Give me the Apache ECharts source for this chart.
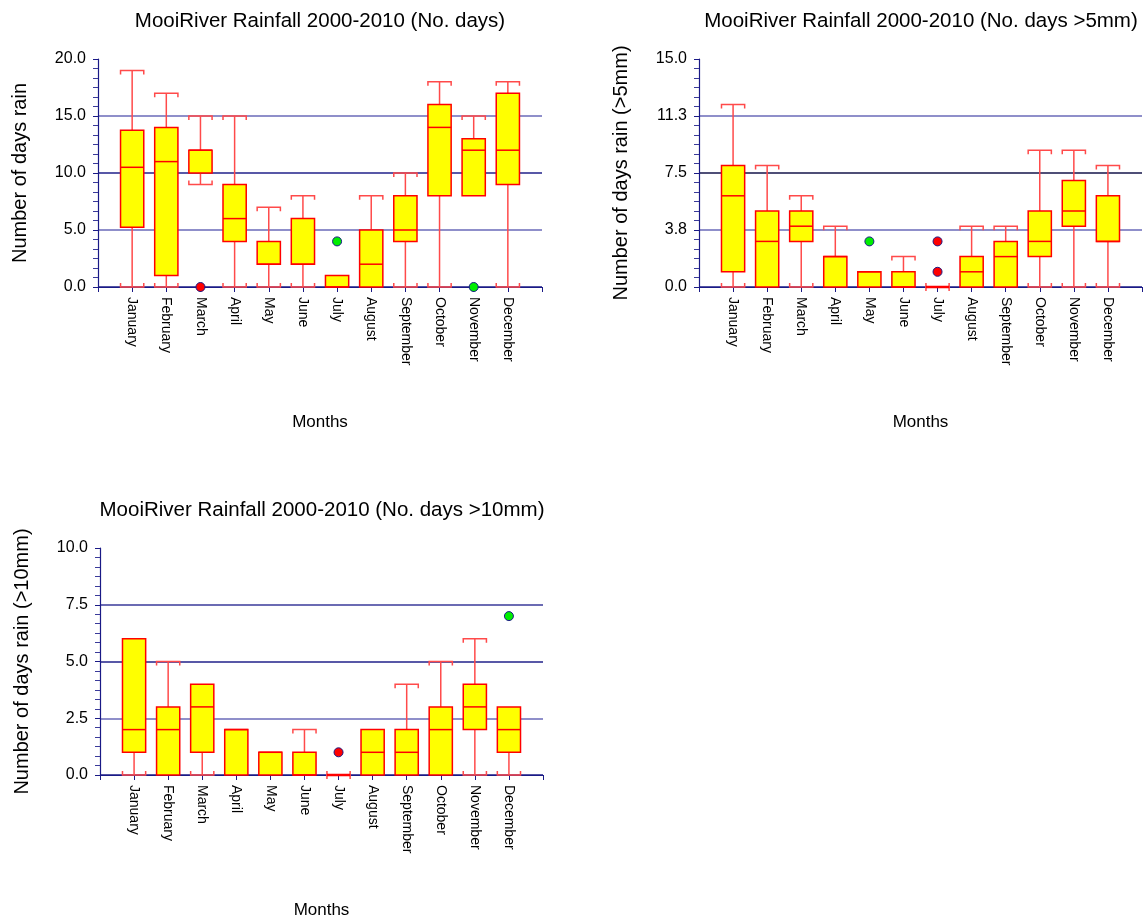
<!DOCTYPE html>
<html>
<head>
<meta charset="utf-8">
<script src="https://cdn.jsdelivr.net/npm/echarts@6/dist/echarts.min.js"></script>
<style>
html,body{margin:0;padding:0;background:#ffffff;}
#c{width:1148px;height:919px;}
</style>
</head>
<body>
<div id="c"></div>
<script>
// ---------- DATA ----------
const months = ['January','February','March','April','May','June','July','August','September','October','November','December'];

// Chart 1: No. days
const days_low  = [0, 0, 9, 0, 0, 0, 0, 0, 0, 0, 8, 0];
const days_q1   = [5.25, 1, 10, 4, 2, 2, 0, 0, 4, 8, 8, 9];
const days_med  = [10.5, 11, 12, 6, 2, 2, 0, 2, 5, 14, 12, 12];
const days_q3   = [13.75, 14, 12, 9, 4, 6, 1, 5, 8, 16, 13, 17];
const days_high = [19, 17, 15, 15, 7, 8, 1, 8, 10, 18, 15, 18];
const days_out_red   = [['March', 0]];
const days_out_green = [['July', 4], ['November', 0]];

// Chart 2: No. days > 5mm
const d5_low  = [0, 0, 0, 0, 0, 0, 0, 0, 0, 0, 0, 0];
const d5_q1   = [1, 0, 3, 0, 0, 0, 0, 0, 0, 2, 4, 3];
const d5_med  = [6, 3, 4, 2, 1, 0, 0, 1, 2, 3, 5, 3];
const d5_q3   = [8, 5, 5, 2, 1, 1, 0, 2, 3, 5, 7, 6];
const d5_high = [12, 8, 6, 4, 1, 2, 0, 4, 4, 9, 9, 8];
const d5_out_red   = [['July', 3], ['July', 1]];
const d5_out_green = [['May', 3]];

// Chart 3: No. days > 10mm
const d10_low  = [0, 0, 0, 0, 0, 0, 0, 0, 0, 0, 0, 0];
const d10_q1   = [1, 0, 1, 0, 0, 0, 0, 0, 0, 0, 2, 1];
const d10_med  = [2, 2, 3, 2, 1, 0, 0, 1, 1, 2, 3, 2];
const d10_q3   = [6, 3, 4, 2, 1, 1, 0, 2, 2, 3, 4, 3];
const d10_high = [6, 5, 4, 2, 1, 2, 0, 2, 4, 5, 6, 3];
const d10_out_red   = [['July', 1]];
const d10_out_green = [['December', 7]];

// Axis ticks
const yTicks1 = {min: 0, max: 20, interval: 5};
const yTicks2 = {min: 0, max: 15, interval: 3.75};
const yTicks3 = {min: 0, max: 10, interval: 2.5};

const titles = ['MooiRiver Rainfall 2000-2010 (No. days)',
                'MooiRiver Rainfall 2000-2010 (No. days >5mm)',
                'MooiRiver Rainfall 2000-2010 (No. days >10mm)'];
const yNames = ['Number of days rain', 'Number of days rain (>5mm)', 'Number of days rain (>10mm)'];
const xName = 'Months';

// ---------- STYLE / BUILD ----------
const FONT = 'Arial, "Liberation Sans", sans-serif';
const NAVY = '#1a1a86';
const DARK = '#20208a';
const LIGHT = '#6a6ab8';

function boxData(low, q1, med, q3, high) {
  return months.map((m, i) => [m, low[i], q1[i], med[i], q3[i], high[i]]);
}

function renderBox(params, api) {
  const x = api.value(0);
  const low = api.value(1), q1 = api.value(2), med = api.value(3), q3 = api.value(4), high = api.value(5);
  const pLow = api.coord([x, low]);
  const pQ1 = api.coord([x, q1]);
  const pMed = api.coord([x, med]);
  const pQ3 = api.coord([x, q3]);
  const pHigh = api.coord([x, high]);
  const bw = api.size([1, 0])[0] * 0.68;
  const hw = bw / 2;
  const cx = pQ1[0];
  const tick = 4;
  const wStyle = {stroke: '#ff4a4a', lineWidth: 1.5, fill: null};
  const children = [];
  const degenerate = q1 === q3;
  if (high > q3) {
    children.push({type: 'line', shape: {x1: cx, y1: pQ3[1], x2: cx, y2: pHigh[1]}, style: wStyle});
  }
  if (high > q3 || degenerate) {
    const y = pHigh[1];
    children.push({type: 'polyline', shape: {points: [[cx - hw, y + tick], [cx - hw, y], [cx + hw, y], [cx + hw, y + tick]]}, style: wStyle});
  }
  if (low < q1) {
    children.push({type: 'line', shape: {x1: cx, y1: pQ1[1], x2: cx, y2: pLow[1]}, style: wStyle});
  }
  if (low < q1 || degenerate) {
    const y = pLow[1];
    children.push({type: 'polyline', shape: {points: [[cx - hw, y - tick], [cx - hw, y], [cx + hw, y], [cx + hw, y - tick]]}, style: wStyle});
  }
  children.push({type: 'rect', shape: {x: cx - hw, y: pQ3[1], width: bw, height: pQ1[1] - pQ3[1]},
                 style: {fill: '#ffff00', stroke: '#ff0000', lineWidth: degenerate ? 2.5 : 1.5}});
  children.push({type: 'line', shape: {x1: cx - hw, y1: pMed[1], x2: cx + hw, y2: pMed[1]},
                 style: {stroke: '#ff0000', lineWidth: 1.5}});
  return {type: 'group', children: children};
}

function mkX(gi) {
  return {
    type: 'category', gridIndex: gi, data: [''].concat(months).concat(['']), boundaryGap: false,
    axisLine: {show: true, onZero: false, lineStyle: {color: NAVY, width: 1.2}},
    axisTick: {show: true, length: 5, interval: 0, lineStyle: {color: NAVY}},
    axisLabel: {rotate: -90, margin: 10, interval: 0, fontSize: 14, color: '#000', fontFamily: FONT},
    splitLine: {show: false},
    name: xName, nameLocation: 'middle', nameGap: 127,
    nameTextStyle: {fontSize: 17, color: '#000', fontFamily: FONT}
  };
}

function mkY(gi, t, name, colors) {
  return {
    type: 'value', gridIndex: gi, min: t.min, max: t.max, interval: t.interval,
    axisLine: {show: true, lineStyle: {color: NAVY, width: 1.2}},
    axisTick: {show: true, length: 5, lineStyle: {color: NAVY}},
    minorTick: {show: true, splitNumber: 6, length: 5, lineStyle: {color: '#3a3a9a'}},
    minorSplitLine: {show: false},
    axisLabel: {formatter: v => v.toFixed(1), fontSize: 16, color: '#000', margin: 12, fontFamily: FONT,
                showMinLabel: true, showMaxLabel: true},
    splitLine: {show: true, showMinLine: true, showMaxLine: false, lineStyle: {color: colors, width: 1.5}},
    name: name, nameLocation: 'middle', nameGap: 68,
    nameTextStyle: {fontSize: 20, color: '#000', fontFamily: FONT}
  };
}

function boxSeries(gi, data) {
  return {type: 'custom', xAxisIndex: gi, yAxisIndex: gi, renderItem: renderBox,
          encode: {x: 0, y: [1, 2, 3, 4, 5]}, data: data, z: 3, clip: false};
}
function outSeries(gi, data, color) {
  return {type: 'scatter', xAxisIndex: gi, yAxisIndex: gi, data: data, symbol: 'circle', symbolSize: 9,
          itemStyle: {color: color, borderColor: NAVY, borderWidth: 1, opacity: 1}, z: 5, clip: false};
}

const titleStyle = {fontSize: 20.5, fontWeight: 'normal', color: '#000', fontFamily: FONT};
const chart = echarts.init(document.getElementById('c'), null, {renderer: 'canvas'});
chart.setOption({
  backgroundColor: '#ffffff',
  animation: false,
  title: [
    {text: titles[0], left: 320, top: 11, textAlign: 'center', padding: 0, textStyle: titleStyle},
    {text: titles[1], left: 921, top: 11, textAlign: 'center', padding: 0, textStyle: titleStyle},
    {text: titles[2], left: 322, top: 500, textAlign: 'center', padding: 0, textStyle: titleStyle}
  ],
  grid: [
    {left: 98, top: 59, width: 444, height: 228, containLabel: false, outerBoundsMode: 'none'},
    {left: 699, top: 59, width: 443, height: 228, containLabel: false, outerBoundsMode: 'none'},
    {left: 100, top: 548, width: 443, height: 227, containLabel: false, outerBoundsMode: 'none'}
  ],
  xAxis: [mkX(0), mkX(1), mkX(2)],
  yAxis: [
    mkY(0, yTicks1, yNames[0], [NAVY, LIGHT, DARK, LIGHT]),
    mkY(1, yTicks2, yNames[1], [NAVY, LIGHT, '#15154a', LIGHT]),
    mkY(2, yTicks3, yNames[2], [NAVY, LIGHT, DARK, '#3a3a9a'])
  ],
  series: [
    boxSeries(0, boxData(days_low, days_q1, days_med, days_q3, days_high)),
    outSeries(0, days_out_red, '#ff0000'),
    outSeries(0, days_out_green, '#00ee00'),
    boxSeries(1, boxData(d5_low, d5_q1, d5_med, d5_q3, d5_high)),
    outSeries(1, d5_out_red, '#ff0000'),
    outSeries(1, d5_out_green, '#00ee00'),
    boxSeries(2, boxData(d10_low, d10_q1, d10_med, d10_q3, d10_high)),
    outSeries(2, d10_out_red, '#ff0000'),
    outSeries(2, d10_out_green, '#00ee00')
  ]
});
</script>
</body>
</html>
